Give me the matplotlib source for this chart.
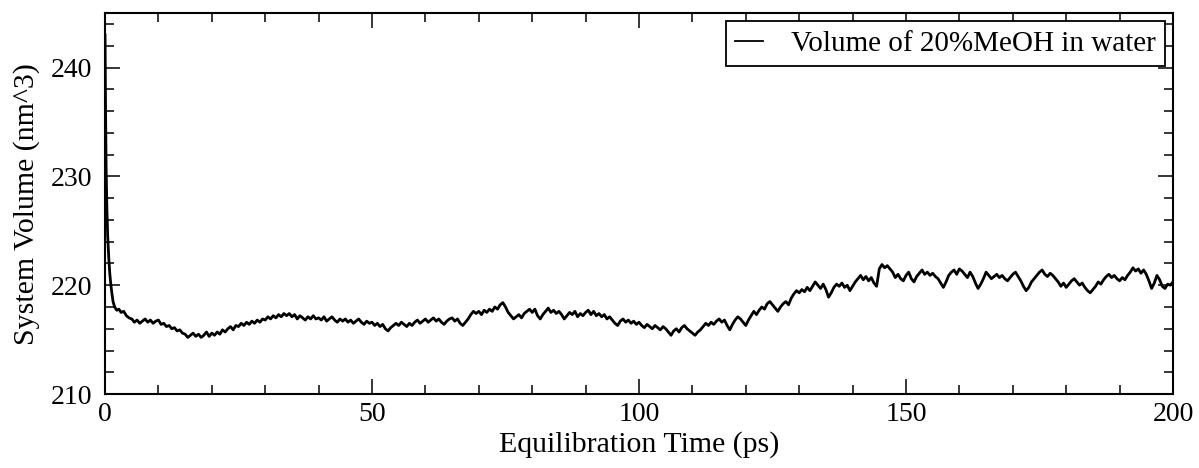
import numpy as np
import matplotlib
matplotlib.use("Agg")
import matplotlib.pyplot as plt
from matplotlib.ticker import MultipleLocator

# start of the run: fast decay of the box volume
time_head = [0.0, 0.1, 0.2, 0.35, 0.5, 0.7, 0.9, 1.1, 1.3, 1.5, 1.8, 2.2, 2.6, 3.0, 3.5, 4.0, 4.5]
vol_head = [243.0, 236.0, 231.0, 227.0, 224.5, 222.5, 221.0, 220.0, 219.2, 218.5, 218.0, 217.7,
            217.8, 217.5, 217.6, 217.2, 217.0]

# rest of the run, one value every 0.5 ps starting at 5 ps
vol_tail = [
    216.9, 216.6, 216.8, 216.5, 216.7, 216.9, 216.6, 216.8, 216.5, 216.7,  # 5
    216.8, 216.4, 216.5, 216.2, 216.3, 216.0, 216.1, 215.8, 215.9, 215.6,  # 10
    215.5, 215.2, 215.4, 215.6, 215.3, 215.5, 215.2, 215.4, 215.7, 215.3,  # 15
    215.6, 215.4, 215.7, 215.5, 215.9, 215.7, 216.0, 216.2, 215.9, 216.3,  # 20
    216.2, 216.5, 216.3, 216.6, 216.4, 216.7, 216.5, 216.8, 216.6, 216.9,  # 25
    216.8, 217.1, 216.9, 217.2, 217.0, 217.3, 217.1, 217.4, 217.2, 217.4,  # 30
    217.1, 217.3, 216.9, 217.2, 217.0, 216.8, 217.1, 216.9, 217.2, 216.9,  # 35
    217.0, 216.8, 217.1, 216.7, 216.9, 217.1, 216.8, 216.6, 216.9, 216.7,  # 40
    216.9, 216.6, 216.8, 216.5, 216.7, 216.9, 216.6, 216.4, 216.7, 216.5,  # 45
    216.6, 216.3, 216.5, 216.2, 216.4, 216.0, 215.8, 216.1, 216.3, 216.5,  # 50
    216.3, 216.6, 216.4, 216.2, 216.5, 216.3, 216.6, 216.8, 216.5, 216.7,  # 55
    216.9, 216.6, 216.8, 217.0, 216.7, 216.9, 216.6, 216.4, 216.7, 216.9,  # 60
    217.0, 216.7, 216.9, 216.5, 216.3, 216.6, 216.9, 217.3, 217.6, 217.4,  # 65
    217.6, 217.3, 217.7, 217.5, 217.8, 217.6, 218.0, 217.8, 218.2, 218.4,  # 70
    218.0, 217.5, 217.2, 216.9, 217.1, 217.3, 217.0, 217.4, 217.6, 217.8,  # 75
    217.5, 217.8, 217.2, 216.9, 217.3, 217.6, 217.9, 217.5, 217.7, 217.4,  # 80
    217.6, 217.3, 216.9, 217.2, 217.5, 217.3, 217.6, 217.1, 217.4, 217.2,  # 85
    217.5, 217.7, 217.3, 217.6, 217.2, 217.4, 217.1, 217.3, 216.9, 217.1,  # 90
    216.8, 216.5, 216.3, 216.7, 216.9, 216.6, 216.8, 216.5, 216.7, 216.4,  # 95
    216.6, 216.3, 216.1, 216.4, 216.2, 216.0, 216.3, 216.1, 215.9, 216.2,  # 100
    216.0, 215.7, 215.4, 215.8, 216.0, 215.7, 216.1, 216.3, 216.0, 215.8,  # 105
    215.6, 215.4, 215.7, 215.9, 216.2, 216.5, 216.3, 216.6, 216.4, 216.7,  # 110
    216.9, 216.6, 216.8, 216.3, 215.9, 216.4, 216.8, 217.1, 216.9, 216.6,  # 115
    216.3, 216.8, 217.2, 217.6, 217.3, 217.7, 218.0, 217.8, 218.3, 218.5,  # 120
    218.2, 217.9, 217.6, 218.0, 218.3, 218.5, 218.2, 218.8, 219.2, 219.5,  # 125
    219.3, 219.6, 219.4, 219.8, 219.5, 219.9, 220.3, 220.0, 219.7, 220.1,  # 130
    219.6, 218.9, 219.3, 219.8, 220.1, 219.9, 220.2, 219.8, 220.0, 219.5,  # 135
    219.9, 220.3, 220.6, 220.9, 220.5, 220.8, 220.4, 220.7, 220.2, 219.9,  # 140
    221.5, 221.9, 221.6, 221.8, 221.5, 221.2, 220.7, 221.0, 220.6, 220.4,  # 145
    220.9, 221.2, 220.6, 220.3, 220.8, 221.1, 221.4, 221.0, 221.2, 220.9,  # 150
    221.1, 220.8, 220.6, 220.2, 219.8, 220.3, 220.9, 221.2, 221.4, 221.0,  # 155
    221.5, 221.3, 221.0, 220.7, 221.2, 220.8, 220.2, 219.7, 220.1, 220.6,  # 160
    221.2, 220.9, 220.6, 220.8, 221.0, 220.7, 220.9, 220.6, 220.4, 220.7,  # 165
    221.0, 221.2, 220.8, 220.4, 219.9, 219.5, 219.8, 220.3, 220.6, 220.9,  # 170
    221.2, 221.4, 221.0, 220.8, 221.1, 220.9, 220.6, 220.3, 219.9, 220.2,  # 175
    219.8, 220.1, 220.4, 220.6, 220.3, 220.0, 220.2, 219.8, 219.5, 219.3,  # 180
    219.6, 219.9, 220.3, 220.1, 220.5, 220.8, 221.0, 220.7, 220.9, 220.6,  # 185
    220.4, 220.7, 220.5, 220.9, 221.2, 221.6, 221.3, 221.5, 221.1, 221.4,  # 190
    221.0, 220.4, 219.7, 220.2, 220.9, 220.5, 219.9, 219.7, 220.1, 220.0,  # 195
    220.3,  # 200
]
time_tail = 5.0 + 0.5 * np.arange(len(vol_tail))

time = np.concatenate([time_head, time_tail])
volume = np.concatenate([vol_head, vol_tail])

plt.rcParams['font.family'] = ['Liberation Serif', 'DejaVu Serif']

fig = plt.figure(figsize=(11.99, 4.68), dpi=100)
ax = fig.add_axes([0.0876, 0.158, 0.8907, 0.814])

ax.plot(time, volume, color='black', lw=2.0, label='Volume of 20%MeOH in water')

ax.set_xlim(0, 200)
ax.set_ylim(210, 245)
ax.xaxis.set_major_locator(MultipleLocator(50))
ax.xaxis.set_minor_locator(MultipleLocator(10))
ax.yaxis.set_major_locator(MultipleLocator(10))
ax.yaxis.set_minor_locator(MultipleLocator(2))
ax.tick_params(which='both', direction='in', top=True, right=True, width=1.1, labelsize=20)
ax.tick_params(which='major', length=11)
ax.tick_params(which='minor', length=6.5)
ax.tick_params(axis='x', pad=6)
ax.tick_params(axis='y', pad=9)
for sp in ax.spines.values():
    sp.set_linewidth(1.5)

ax.set_xlabel('Equilibration Time (ps)', fontsize=21.5, labelpad=3)
ax.set_ylabel('System Volume (nm^3)', fontsize=21.5, labelpad=8)

leg = ax.legend(loc='upper right', bbox_to_anchor=(0.9925, 0.98), borderaxespad=0,
                fontsize=21, handlelength=0.95, handletextpad=0.95, borderpad=0.33,
                fancybox=False, framealpha=1, edgecolor='black')
leg.get_frame().set_linewidth(1.3)
leg.get_lines()[0].set_linewidth(1.3)

fig.savefig('out.png', dpi=100)
